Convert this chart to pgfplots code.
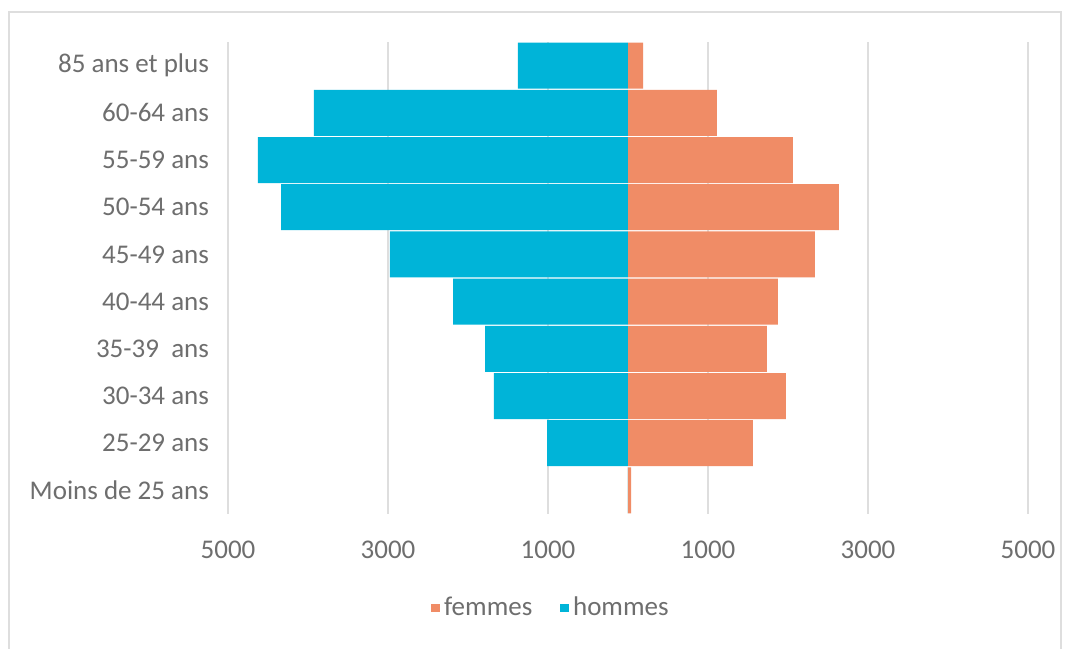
\documentclass[border=0pt]{standalone}
\usepackage{fontspec}
\setmainfont{Carlito}
\usepackage{pgfplots}
\pgfplotsset{compat=1.18}
\definecolor{hommes}{RGB}{0,180,216}
\definecolor{femmes}{RGB}{240,140,102}
\definecolor{tickgray}{RGB}{110,110,110}
\definecolor{gridgray}{RGB}{222,222,222}
\begin{document}
\begin{tikzpicture}
\useasboundingbox (0,0) rectangle (535.5pt,324pt);
\fill[white] (0,0) rectangle (535.5pt,324pt);
\draw[gridgray, line width=0.8pt] (4.5pt,-5pt) rectangle (530.5pt,318pt);
\begin{axis}[
  at={(114pt,67pt)}, anchor=south west,
  scale only axis, width=400pt, height=236pt,
  xbar, bar width=23pt,
  xmin=-5000, xmax=5000,
  ymin=-0.5, ymax=9.5,
  ytick={0,...,9},
  yticklabels={Moins de 25 ans,25-29 ans,30-34 ans,35-39\ \ ans,40-44 ans,45-49 ans,50-54 ans,55-59 ans,60-64 ans,85 ans et plus},
  xtick={-5000,-3000,-1000,1000,3000,5000},
  xticklabels={5000,3000,1000,1000,3000,5000},
  /pgf/number format/assume math mode=true,
  xmajorgrids, grid style={gridgray, line width=0.9pt},
  axis line style={draw=none},
  major tick length=0pt,
  tick label style={font=\fontsize{13.5}{15}\selectfont, text=tickgray},
  xticklabel style={anchor=center, yshift=-18pt},
  yticklabel style={anchor=east, xshift=-6pt},
  legend style={at={(0.405,-0.199)}, anchor=center, draw=none, fill=none,
    legend columns=2, font=\fontsize{13.5}{15}\selectfont, text=tickgray,
    /tikz/every even column/.append style={column sep=12pt}},
  legend image code/.code={\fill[#1] (0pt,-2.2pt) rectangle (4.4pt,2.2pt);},
  clip=false,
]
\addplot[xbar, bar shift=0pt, fill=femmes, draw=none] coordinates {
  (40,0) (1562,1) (1975,2) (1737,3) (1875,4) (2337,5) (2637,6) (2062,7) (1112,8) (190,9)
};
\addlegendentry{femmes}
\addplot[xbar, bar shift=0pt, fill=hommes, draw=none] coordinates {
  (0,0) (-1012,1) (-1675,2) (-1787,3) (-2187,4) (-2975,5) (-4337,6) (-4625,7) (-3925,8) (-1375,9)
};
\addlegendentry{hommes}
\end{axis}
\end{tikzpicture}
\end{document}
